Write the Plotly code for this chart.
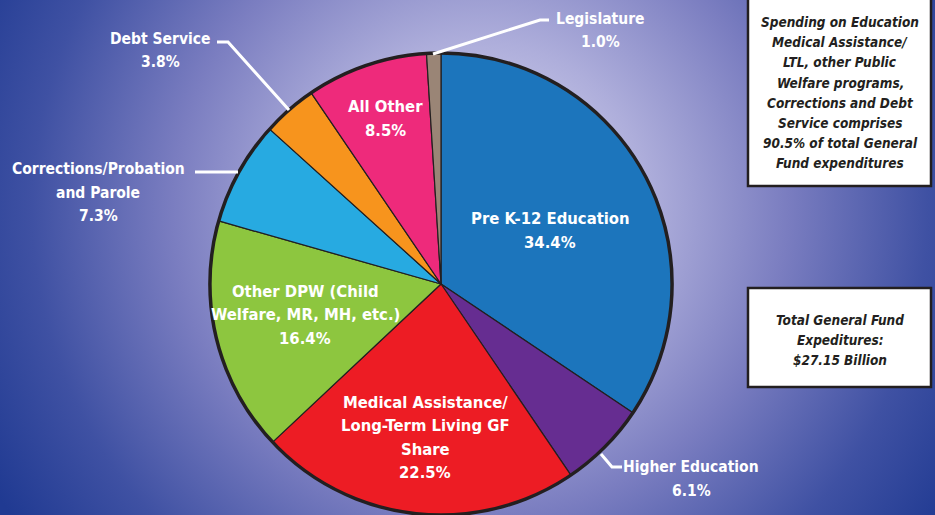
import base64
import plotly.graph_objects as go

# ---------------- data ----------------
categories = [
    "Pre K-12 Education",
    "Higher Education",
    "Medical Assistance/Long-Term Living GF Share",
    "Other DPW (Child Welfare, MR, MH, etc.)",
    "Corrections/Probation and Parole",
    "Debt Service",
    "All Other",
    "Legislature",
]
label_lines = [
    ["Pre K-12 Education"],
    ["Higher Education"],
    ["Medical Assistance/", "Long-Term Living GF", "Share"],
    ["Other DPW (Child", "Welfare, MR, MH, etc.)"],
    ["Corrections/Probation", "and Parole"],
    ["Debt Service"],
    ["All Other"],
    ["Legislature"],
]
shares = [34.4, 6.1, 22.5, 16.4, 7.3, 3.8, 8.5, 1.0]
slice_colors = ["#1c75bc", "#662d91", "#ed1c24", "#8dc63f",
                "#27aae1", "#f7941d", "#ee2a7b", "#9a8576"]

note_top = ["Spending on Education", "Medical Assistance/", "LTL, other Public",
            "Welfare programs,", "Corrections and Debt", "Service comprises",
            "90.5% of total General", "Fund expenditures"]
note_bottom = ["Total General Fund", "Expeditures:", "$27.15 Billion"]

# ---------------- layout helpers ----------------
W, H = 935, 515
FONT = "DejaVu Sans Condensed, Liberation Sans Narrow, Arial Narrow, sans-serif"


def px(x):
    return x / W


def py(y):
    return 1 - y / H


# background radial gradient (svg data uri)
svg = f"""<svg xmlns='http://www.w3.org/2000/svg' width='{W}' height='{H}'>
<defs><radialGradient id='g' cx='480' cy='210' r='560' gradientUnits='userSpaceOnUse'>
<stop offset='0' stop-color='#e2e2f4'/>
<stop offset='0.30' stop-color='#aeaedb'/>
<stop offset='0.55' stop-color='#7a7dc0'/>
<stop offset='0.80' stop-color='#3f51a3'/>
<stop offset='1' stop-color='#203a92'/>
</radialGradient></defs>
<rect width='{W}' height='{H}' fill='url(#g)'/></svg>"""
bg_uri = "data:image/svg+xml;base64," + base64.b64encode(svg.encode()).decode()

pie_domain = dict(x=[px(210), px(672)], y=[0, py(53)])

fig = go.Figure()
fig.add_trace(go.Pie(
    labels=categories, values=shares, sort=False, direction="clockwise",
    rotation=0, domain=pie_domain,
    marker=dict(colors=slice_colors, line=dict(color="#231f20", width=1.2)),
    textinfo="none", showlegend=False, hole=0,
))
# outer rim
fig.add_trace(go.Pie(
    labels=["total"], values=[sum(shares)], domain=pie_domain, sort=False,
    marker=dict(colors=["rgba(0,0,0,0)"], line=dict(color="#231f20", width=3.5)),
    textinfo="none", showlegend=False, hoverinfo="skip",
))

# label positions (pixel centre x, first line centre y, font size)
label_pos = [(550, 219, 16.5), (691, 467, 15.5), (425, 402, 16.5), (305, 291, 16.5),
             (98, 169, 15.5), (160, 39, 15.5), (385, 107, 16.5), (600, 19, 15.5)]
LINE = 23.5

annotations = []
for lines, v, (x, y0, fs) in zip(label_lines, shares, label_pos):
    for i, t in enumerate(lines + [f"{v:.1f}%"]):
        annotations.append(dict(
            text=t, x=px(x), y=py(y0 + i * LINE), xref="paper", yref="paper",
            xanchor="center", yanchor="middle", showarrow=False,
            font=dict(family=FONT, size=fs, color="white", weight="bold"),
        ))

for lines, y0 in ((note_top, 22), (note_bottom, 320)):
    for i, t in enumerate(lines):
        annotations.append(dict(
            text=f"<b><i>{t}</i></b>", x=px(840), y=py(y0 + i * 20.2),
            xref="paper", yref="paper", xanchor="center", yanchor="middle",
            showarrow=False, font=dict(family=FONT, size=13.5, color="#231f20"),
        ))


def path(points):
    return "M " + " L ".join(f"{px(a)},{py(b)}" for a, b in points)


shapes = [
    dict(type="rect", xref="paper", yref="paper", x0=px(748), x1=px(931),
         y0=py(186), y1=py(-5), fillcolor="white",
         line=dict(color="#231f20", width=2.5)),
    dict(type="rect", xref="paper", yref="paper", x0=px(748), x1=px(931),
         y0=py(387), y1=py(288), fillcolor="white",
         line=dict(color="#231f20", width=2.5)),
]
leaders = [
    [(433, 54), (540, 20), (549, 20)],
    [(217, 42), (228, 42), (289, 110)],
    [(195, 172), (238, 172)],
    [(601, 454), (612, 467), (622, 467)],
]
for pts in leaders:
    shapes.append(dict(type="path", xref="paper", yref="paper", path=path(pts),
                       line=dict(color="white", width=3)))

fig.update_layout(
    width=W, height=H,
    margin=dict(l=0, r=0, t=0, b=0),
    paper_bgcolor="#203a92", plot_bgcolor="rgba(0,0,0,0)",
    images=[dict(source=bg_uri, xref="paper", yref="paper", x=0, y=1,
                 sizex=1, sizey=1, sizing="stretch", layer="below",
                 xanchor="left", yanchor="top")],
    annotations=annotations, shapes=shapes,
    showlegend=False,
)

fig.write_html("out.html", config={"displayModeBar": False},
               post_script="document.body.style.margin='0';document.body.style.overflow='hidden';")
